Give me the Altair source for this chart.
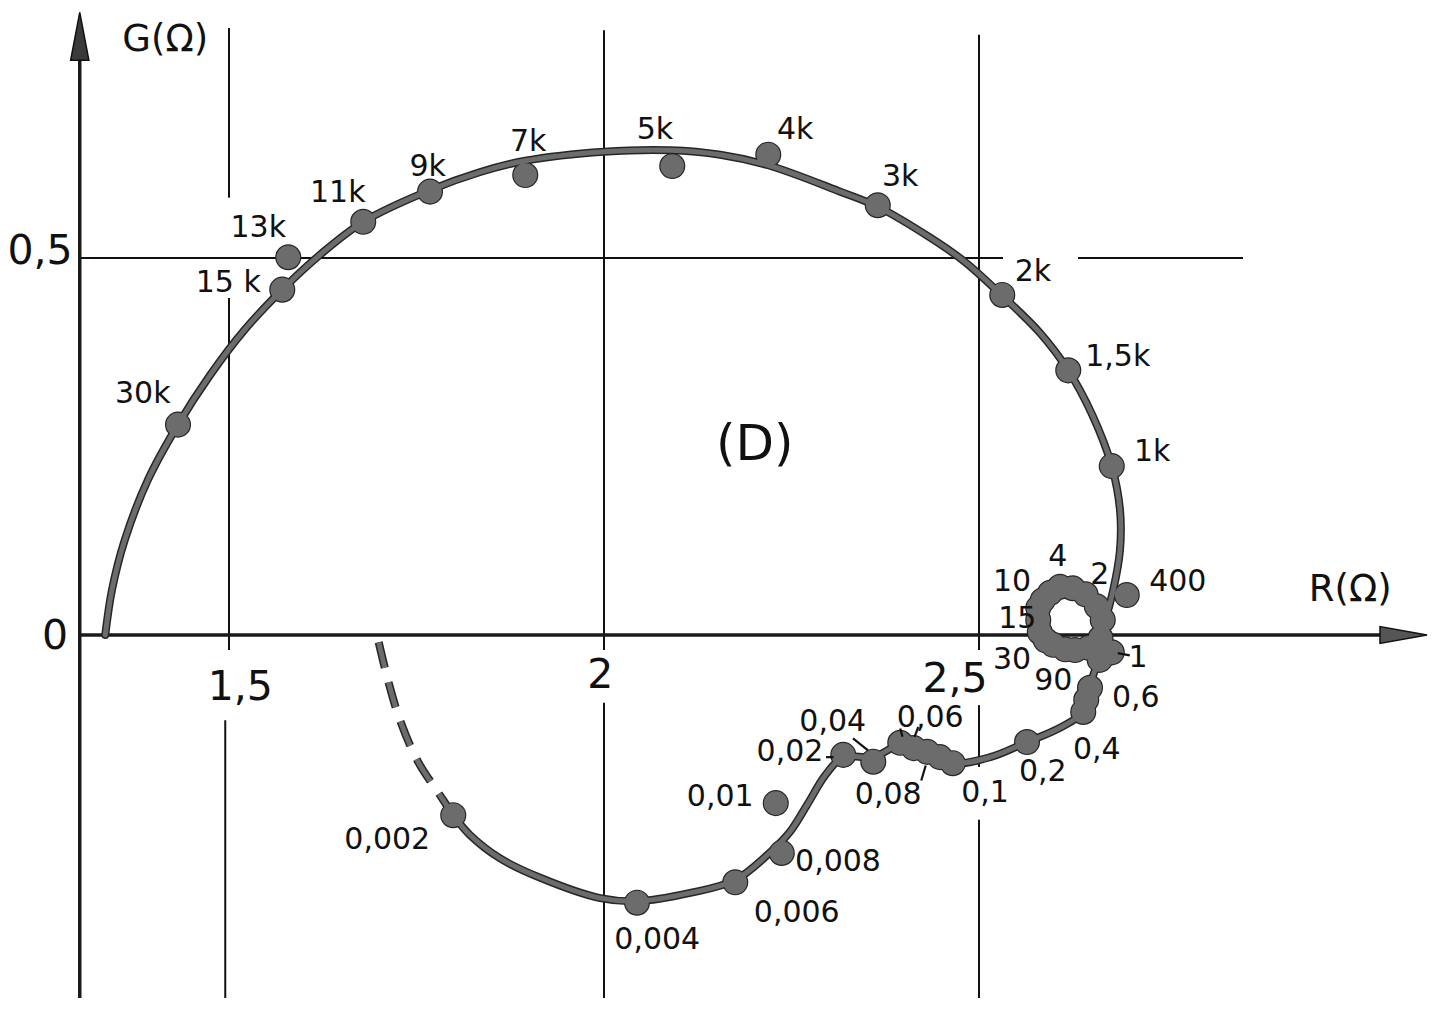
import altair as alt
import pandas as pd

# ---------------- data (R and G in ohms) ----------------
# solid curve, followed in drawing order
curve_R = [1.335, 1.344, 1.361, 1.392, 1.432, 1.475, 1.521, 1.571, 1.621, 1.679,
           1.768, 1.835, 1.895, 2.000, 2.088, 2.155, 2.219, 2.315, 2.365, 2.435,
           2.481, 2.531, 2.581, 2.619, 2.651, 2.677, 2.688, 2.688, 2.679, 2.668,
           2.655, 2.628, 2.599, 2.579, 2.585, 2.608, 2.636, 2.657, 2.666, 2.672,
           2.655, 2.648, 2.639, 2.608, 2.564, 2.515, 2.465, 2.431, 2.395, 2.359,
           2.319, 2.295, 2.271, 2.248, 2.225, 2.175, 2.115, 2.044, 1.995, 1.915,
           1.861, 1.821, 1.799]
curve_G = [0.000, 0.060, 0.126, 0.206, 0.279, 0.345, 0.405, 0.458, 0.504, 0.548,
           0.590, 0.614, 0.629, 0.641, 0.643, 0.637, 0.623, 0.588, 0.568, 0.527,
           0.495, 0.450, 0.401, 0.351, 0.292, 0.224, 0.166, 0.113, 0.060, 0.020,
           -0.007, -0.020, -0.013, 0.017, 0.046, 0.064, 0.055, 0.036, 0.009, -0.020,
           -0.046, -0.070, -0.102, -0.123, -0.142, -0.162, -0.170, -0.155, -0.146, -0.162,
           -0.162, -0.186, -0.225, -0.261, -0.285, -0.325, -0.342, -0.353, -0.349, -0.322,
           -0.296, -0.265, -0.239]

# dashed (extrapolated) part
dash_R = [1.799, 1.781, 1.752, 1.728, 1.712, 1.699]
dash_G = [-0.239, -0.212, -0.168, -0.113, -0.060, -0.007]

# measured points (frequency in Hz); unlabeled ones fill the dense cluster
dot_label = ["30k", "15k", "13k", "11k", "9k", "7k", "5k", "4k", "3k", "2k", "1,5k", "1k",
             "400", "90", "30", "15", "10", "4", "2", "1", "0,6", "0,4", "0,2", "0,1",
             "0,08", "0,06", "0,04", "0,02", "0,01", "0,008", "0,006", "0,004", "0,002",
             "", "", "", "", "", "", "", "", "", "", "", "", "", ""]
dot_R = [1.432, 1.571, 1.579, 1.679, 1.768, 1.895, 2.091, 2.219, 2.365, 2.531, 2.619, 2.677,
         2.697, 2.628, 2.599, 2.579, 2.585, 2.608, 2.657, 2.677, 2.648, 2.639, 2.564, 2.465,
         2.431, 2.395, 2.359, 2.319, 2.229, 2.237, 2.175, 2.044, 1.799,
         2.595, 2.625, 2.642, 2.581, 2.579, 2.589, 2.615, 2.646, 2.662, 2.665,
         2.661, 2.643, 2.448, 2.413]
dot_G = [0.279, 0.458, 0.501, 0.548, 0.588, 0.610, 0.622, 0.637, 0.570, 0.451, 0.351, 0.224,
         0.053, -0.020, -0.013, 0.020, 0.046, 0.064, 0.038, -0.023, -0.070, -0.102, -0.142, -0.170,
         -0.155, -0.143, -0.168, -0.159, -0.223, -0.289, -0.328, -0.355, -0.239,
         0.056, 0.062, 0.054, 0.004, 0.036, -0.007, -0.019, -0.017, -0.004, 0.020,
         -0.033, -0.086, -0.162, -0.150]

# where the frequency labels are written
lab_text = ["30k", "15 k", "13k", "11k", "9k", "7k", "5k", "4k", "3k", "2k", "1,5k", "1k",
            "400", "2", "4", "10", "15", "30", "90", "1", "0,6", "0,4", "0,2", "0,1",
            "0,08", "0,06", "0,04", "0,02", "0,01", "0,008", "0,006", "0,004", "0,002"]
lab_R = [1.385, 1.499, 1.539, 1.645, 1.765, 1.899, 2.068, 2.255, 2.395, 2.572, 2.685, 2.731,
         2.765, 2.661, 2.605, 2.544, 2.551, 2.544, 2.599, 2.712, 2.709, 2.657, 2.585, 2.508,
         2.379, 2.435, 2.305, 2.248, 2.155, 2.312, 2.257, 2.071, 1.711]
lab_G = [0.320, 0.467, 0.540, 0.586, 0.621, 0.654, 0.670, 0.670, 0.607, 0.481, 0.369, 0.243,
         0.070, 0.080, 0.103, 0.070, 0.021, -0.033, -0.061, -0.031, -0.084, -0.153, -0.182, -0.210,
         -0.212, -0.110, -0.115, -0.155, -0.215, -0.301, -0.369, -0.405, -0.272]

# leader strokes between labels and points
lead_R1 = [2.685, 2.296, 2.332, 2.423, 2.395, 2.419]
lead_G1 = [-0.024, -0.162, -0.137, -0.193, -0.124, -0.122]
lead_R2 = [2.701, 2.306, 2.352, 2.429, 2.398, 2.414]
lead_G2 = [-0.027, -0.162, -0.153, -0.173, -0.135, -0.135]

# grid line pieces (drawn by hand with gaps around labels)
grid_R1 = [1.5, 1.5, 1.495, 2.0, 2.0, 2.5, 2.5, 2.5, 1.301, 2.632]
grid_G1 = [0.805, 0.447, -0.113, 0.802, -0.090, 0.796, -0.093, -0.245, 0.500, 0.500]
grid_R2 = [1.5, 1.5, 1.495, 2.0, 2.0, 2.5, 2.5, 2.5, 2.532, 2.852]
grid_G2 = [0.580, -0.020, -0.49, -0.020, -0.49, -0.020, -0.175, -0.49, 0.500, 0.500]

# axes
axis_R1 = [1.301, 1.301]
axis_G1 = [-0.49, 0.0]
axis_R2 = [1.301, 3.04]
axis_G2 = [0.77, 0.0]

tick_text = ["0,5", "0", "1,5", "2", "2,5"]
tick_R = [1.248, 1.268, 1.515, 1.995, 2.468]
tick_G = [0.508, -0.003, -0.070, -0.054, -0.060]

title_text = ["G(Ω)", "R(Ω)"]
title_R = [1.415, 2.995]
title_G = [0.789, 0.060]

region_text = ["(D)"]
region_R = [2.201]
region_G = [0.252]

# ---------------- chart ----------------
FONT = "DejaVu Sans"
xs = alt.Scale(domain=[1.20533, 3.10533], nice=False, zero=False)
ys = alt.Scale(domain=[-0.48143, 0.83156], nice=False, zero=False)

def X(f="R"):
    return alt.X(f"{f}:Q", scale=xs, axis=None)

def Y(f="G"):
    return alt.Y(f"{f}:Q", scale=ys, axis=None)

curve_df = pd.DataFrame({"R": curve_R, "G": curve_G, "i": range(len(curve_R))})
dash_df = pd.DataFrame({"R": dash_R, "G": dash_G, "i": range(len(dash_R))})
dots_df = pd.DataFrame({"R": dot_R, "G": dot_G, "f": dot_label})
labs_df = pd.DataFrame({"R": lab_R, "G": lab_G, "t": lab_text})
lead_df = pd.DataFrame({"R": lead_R1, "G": lead_G1, "R2": lead_R2, "G2": lead_G2})
grid_df = pd.DataFrame({"R": grid_R1, "G": grid_G1, "R2": grid_R2, "G2": grid_G2})
axis_df = pd.DataFrame({"R": axis_R1, "G": axis_G1, "R2": axis_R2, "G2": axis_G2})
ticks_df = pd.DataFrame({"R": tick_R, "G": tick_G, "t": tick_text})
titles_df = pd.DataFrame({"R": title_R, "G": title_G, "t": title_text})
region_df = pd.DataFrame({"R": region_R, "G": region_G, "t": region_text})
arrow_up_df = pd.DataFrame({"R": [1.301], "G": [0.794]})
arrow_rt_df = pd.DataFrame({"R": [3.066], "G": [0.0]})

GRAY = "#6c6c6c"
DARK = "#262626"

grid = alt.Chart(grid_df).mark_rule(color="#111", strokeWidth=2).encode(
    x=X(), y=Y(), x2="R2:Q", y2="G2:Q")
axes = alt.Chart(axis_df).mark_rule(color="#1a1a1a", strokeWidth=3.5).encode(
    x=X(), y=Y(), x2="R2:Q", y2="G2:Q")
arrow_up = alt.Chart(arrow_up_df).mark_point(
    shape="M0,-1L0.38,1L-0.38,1Z", size=2304, filled=True, opacity=1,
    fill="#3a3a3a", stroke="#111", strokeWidth=1.5).encode(x=X(), y=Y())
arrow_rt = alt.Chart(arrow_rt_df).mark_point(
    shape="M1,0L-1,0.36L-1,-0.36Z", size=2209, filled=True, opacity=1,
    fill="#555", stroke="#111", strokeWidth=1.5).encode(x=X(), y=Y())

curve_out = alt.Chart(curve_df).mark_line(
    color=DARK, strokeWidth=8, interpolate="catmull-rom", strokeCap="round").encode(
    x=X(), y=Y(), order="i:Q")
curve_in = alt.Chart(curve_df).mark_line(
    color=GRAY, strokeWidth=5, interpolate="catmull-rom", strokeCap="round").encode(
    x=X(), y=Y(), order="i:Q")
dash_out = alt.Chart(dash_df).mark_line(
    color=DARK, strokeWidth=8, interpolate="catmull-rom", strokeDash=[26, 15],
    strokeCap="butt").encode(x=X(), y=Y(), order="i:Q")
dash_in = alt.Chart(dash_df).mark_line(
    color=GRAY, strokeWidth=5, interpolate="catmull-rom", strokeDash=[26, 15],
    strokeCap="butt").encode(x=X(), y=Y(), order="i:Q")

dots_out = alt.Chart(dots_df).mark_point(
    shape="circle", size=680, filled=True, opacity=1, fill=DARK,
    strokeWidth=0).encode(x=X(), y=Y())
dots_in = alt.Chart(dots_df).mark_point(
    shape="circle", size=560, filled=True, opacity=1, fill=GRAY,
    strokeWidth=0).encode(x=X(), y=Y())

leads = alt.Chart(lead_df).mark_rule(color="#111", strokeWidth=2.2).encode(
    x=X(), y=Y(), x2="R2:Q", y2="G2:Q")

labels = alt.Chart(labs_df).mark_text(
    font=FONT, fontSize=30, color="#111", align="center", baseline="middle").encode(
    x=X(), y=Y(), text="t:N")
ticks = alt.Chart(ticks_df).mark_text(
    font=FONT, fontSize=41, color="#111", align="center", baseline="middle").encode(
    x=X(), y=Y(), text="t:N")
titles = alt.Chart(titles_df).mark_text(
    font=FONT, fontSize=37, color="#111", align="center", baseline="middle").encode(
    x=X(), y=Y(), text="t:N")
region = alt.Chart(region_df).mark_text(
    font=FONT, fontSize=50, color="#111", align="center", baseline="middle").encode(
    x=X(), y=Y(), text="t:N")

chart = alt.layer(
    grid, axes, arrow_up, arrow_rt, dash_out, curve_out, dots_out, dash_in, curve_in,
    dots_in, leads, labels, ticks, titles, region
).properties(
    width=1425, height=990, padding=0,
    autosize=alt.AutoSizeParams(type="none"),
    background="white"
).configure_view(stroke=None)

chart.save("out.html", embed_options={"renderer": "svg", "actions": False})
